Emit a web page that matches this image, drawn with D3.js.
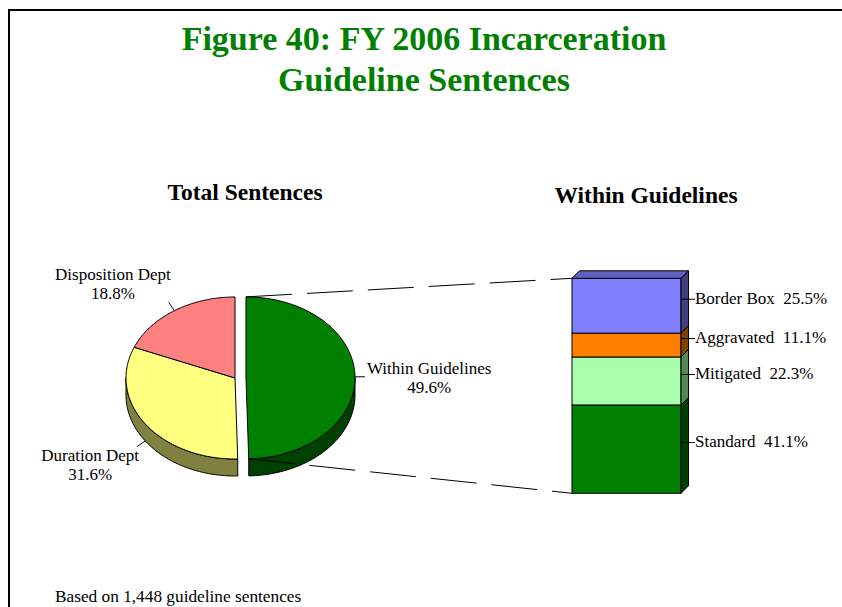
<!DOCTYPE html>
<html>
<head>
<meta charset="utf-8">
<script src="https://cdn.jsdelivr.net/npm/d3@7/dist/d3.min.js"></script>
<style>
  html, body { margin: 0; padding: 0; background: #fff; }
  svg { display: block; }
  text { font-family: "Liberation Serif", "Times New Roman", serif; white-space: pre; }
</style>
</head>
<body>
<svg id="chart" width="842" height="607"></svg>
<script>
// ---------- DATA ----------
const titleLines = ["Figure 40: FY 2006 Incarceration", "Guideline Sentences"];
const pieTitle = "Total Sentences";
const barTitle = "Within Guidelines";
const footnote = "Based on 1,448 guideline sentences";

const pieCategories = ["Within Guidelines", "Duration Dept", "Disposition Dept"];
const pieValues = [49.6, 31.6, 18.8];

const barCategories = ["Standard", "Mitigated", "Aggravated", "Border Box"];
const barValues = [41.1, 22.3, 11.1, 25.5];

// ---------- STYLE ----------
const pieTop  = ["#008000", "#FFFF80", "#FF8080"];
const pieSide = ["#004000", "#808040", "#804040"];
const barFront = ["#008000", "#AAFFAA", "#FF8000", "#8080FF"];
const barSide  = ["#004000", "#558855", "#804000", "#404080"];
const barTopColor = "#6060C0";
const labelSize = 17;

const svg = d3.select("#chart");

// Frame
svg.append("rect").attr("x", 9).attr("y", 10).attr("width", 900).attr("height", 700)
  .attr("fill", "none").attr("stroke", "#000").attr("stroke-width", 2);

// Titles
svg.selectAll("text.title").data(titleLines).enter().append("text")
  .attr("class", "title")
  .attr("x", 424).attr("y", (d, i) => 50 + i * 41)
  .attr("text-anchor", "middle")
  .attr("font-size", 34).attr("font-weight", "bold").attr("fill", "#008000")
  .text(d => d);

svg.append("text").attr("x", 245).attr("y", 200).attr("text-anchor", "middle")
  .attr("font-size", 23.5).attr("font-weight", "bold").text(pieTitle);
svg.append("text").attr("x", 646).attr("y", 203).attr("text-anchor", "middle")
  .attr("font-size", 23.5).attr("font-weight", "bold").text(barTitle);

svg.append("text").attr("x", 55).attr("y", 602).attr("font-size", 17.3).text(footnote);

// ---------- 3D PIE ----------
const cx = 235, cy = 378, rx = 109, ry = 81, depth = 17, explode = 11;
const total = d3.sum(pieValues);
const arcs = d3.pie().sort(null).value(d => d)(pieValues);

const pt = (ox, oy, a, dz = 0) => [ox + rx * Math.sin(a), oy - ry * Math.cos(a) + dz];

function centerOf(i) {
  if (i !== 0) return [cx, cy];
  const mid = (arcs[i].startAngle + arcs[i].endAngle) / 2;
  return [cx + explode * Math.sin(mid), cy - explode * Math.cos(mid) * ry / rx];
}

function arcPoints(ox, oy, a0, a1, dz = 0) {
  const n = Math.max(2, Math.ceil((a1 - a0) / 0.02));
  return d3.range(n + 1).map(k => pt(ox, oy, a0 + (a1 - a0) * k / n, dz));
}

const pieG = svg.append("g");
// side walls
arcs.forEach((a, i) => {
  const s = Math.max(a.startAngle, Math.PI / 2), e = Math.min(a.endAngle, 3 * Math.PI / 2);
  if (e <= s) return;
  const [ox, oy] = centerOf(i);
  const top = arcPoints(ox, oy, s, e);
  const bot = arcPoints(ox, oy, s, e, depth).reverse();
  pieG.append("path")
    .attr("d", "M" + top.concat(bot).map(p => p.join(",")).join("L") + "Z")
    .attr("fill", pieSide[i]).attr("stroke", "#000").attr("stroke-width", 1).attr("stroke-linejoin", "round");
});
// top faces
arcs.forEach((a, i) => {
  const [ox, oy] = centerOf(i);
  const pts = [[ox, oy]].concat(arcPoints(ox, oy, a.startAngle, a.endAngle));
  pieG.append("path")
    .attr("d", "M" + pts.map(p => p.join(",")).join("L") + "Z")
    .attr("fill", pieTop[i]).attr("stroke", "#000").attr("stroke-width", 1).attr("stroke-linejoin", "round");
});

// pie labels
arcs.forEach((a, i) => {
  const [ox, oy] = centerOf(i);
  const mid = (a.startAngle + a.endAngle) / 2;
  const front = Math.cos(mid) < 0;
  const p0 = pt(ox, oy, mid, front ? depth : 0);
  const dir = [Math.sin(mid), -Math.cos(mid)];
  const p1 = [p0[0] + 10 * dir[0], p0[1] + 10 * dir[1]];
  svg.append("line").attr("x1", p0[0]).attr("y1", p0[1]).attr("x2", p1[0]).attr("y2", p1[1])
    .attr("stroke", "#000").attr("stroke-width", 1);
  const lines = [pieCategories[i], d3.format(".1f")(pieValues[i] / total * 100) + "%"];
  const g = svg.append("g");
  const t = g.selectAll("text").data(lines).enter().append("text")
    .attr("font-size", labelSize).attr("text-anchor", "middle").text(d => d);
  const w = d3.max(t.nodes(), n => n.getComputedTextLength());
  const right = dir[0] > 0;
  const bx = right ? p1[0] + 2 + w / 2 : p1[0] - w / 2 + 2;
  let by; // first baseline
  if (right) by = p1[1] - 3;
  else if (dir[1] < 0) by = p1[1] - 22;
  else by = p1[1] + 14;
  t.attr("x", bx).attr("y", (d, k) => by + k * 19);
});

// ---------- 3D STACKED BAR ----------
const bx0 = 572, bx1 = 681, bd = 7.5;
const y = d3.scaleLinear().domain([0, 100]).range([493.3, 278.3]);
const stackTotal = d3.sum(barValues);
const cum = d3.cumsum(barValues);
const segs = barValues.map((v, i) => ({ v, i, y0: (cum[i] - v) / stackTotal * 100, y1: cum[i] / stackTotal * 100 }));

// connector dashed lines
const gc = centerOf(0);
const topPt = pt(gc[0], gc[1], arcs[0].startAngle);
const botPt = pt(gc[0], gc[1], arcs[0].endAngle);
[[topPt, [bx0, y(100)]], [botPt, [bx0, y(0)]]].forEach(([a, b]) => {
  svg.append("line").attr("x1", a[0]).attr("y1", a[1]).attr("x2", b[0]).attr("y2", b[1])
    .attr("stroke", "#000").attr("stroke-width", 1).attr("stroke-dasharray", "46,15");
});

const barG = svg.append("g");
segs.forEach(s => {
  const yt = y(s.y1), yb = y(s.y0);
  barG.append("rect").attr("x", bx0).attr("y", yt).attr("width", bx1 - bx0).attr("height", yb - yt)
    .attr("fill", barFront[s.i]).attr("stroke", "#000").attr("stroke-width", 1);
  barG.append("path")
    .attr("d", `M${bx1},${yt}L${bx1 + bd},${yt - bd}L${bx1 + bd},${yb - bd}L${bx1},${yb}Z`)
    .attr("fill", barSide[s.i]).attr("stroke", "#000").attr("stroke-width", 1).attr("stroke-linejoin", "round");
});
const yTop = y(100);
barG.append("path")
  .attr("d", `M${bx0},${yTop}L${bx0 + bd},${yTop - bd}L${bx1 + bd},${yTop - bd}L${bx1},${yTop}Z`)
  .attr("fill", barTopColor).attr("stroke", "#000").attr("stroke-width", 1).attr("stroke-linejoin", "round");

// bar labels
segs.forEach(s => {
  const ym = (y(s.y0) + y(s.y1)) / 2 - 6.5;
  svg.append("line").attr("x1", bx1).attr("y1", ym).attr("x2", bx1 + 14).attr("y2", ym)
    .attr("stroke", "#000").attr("stroke-width", 1);
  svg.append("text").attr("x", bx1 + 14).attr("y", ym + 4.5).attr("font-size", labelSize)
    .text(barCategories[s.i] + "  " + d3.format(".1f")(barValues[s.i]) + "%");
});
</script>
</body>
</html>
